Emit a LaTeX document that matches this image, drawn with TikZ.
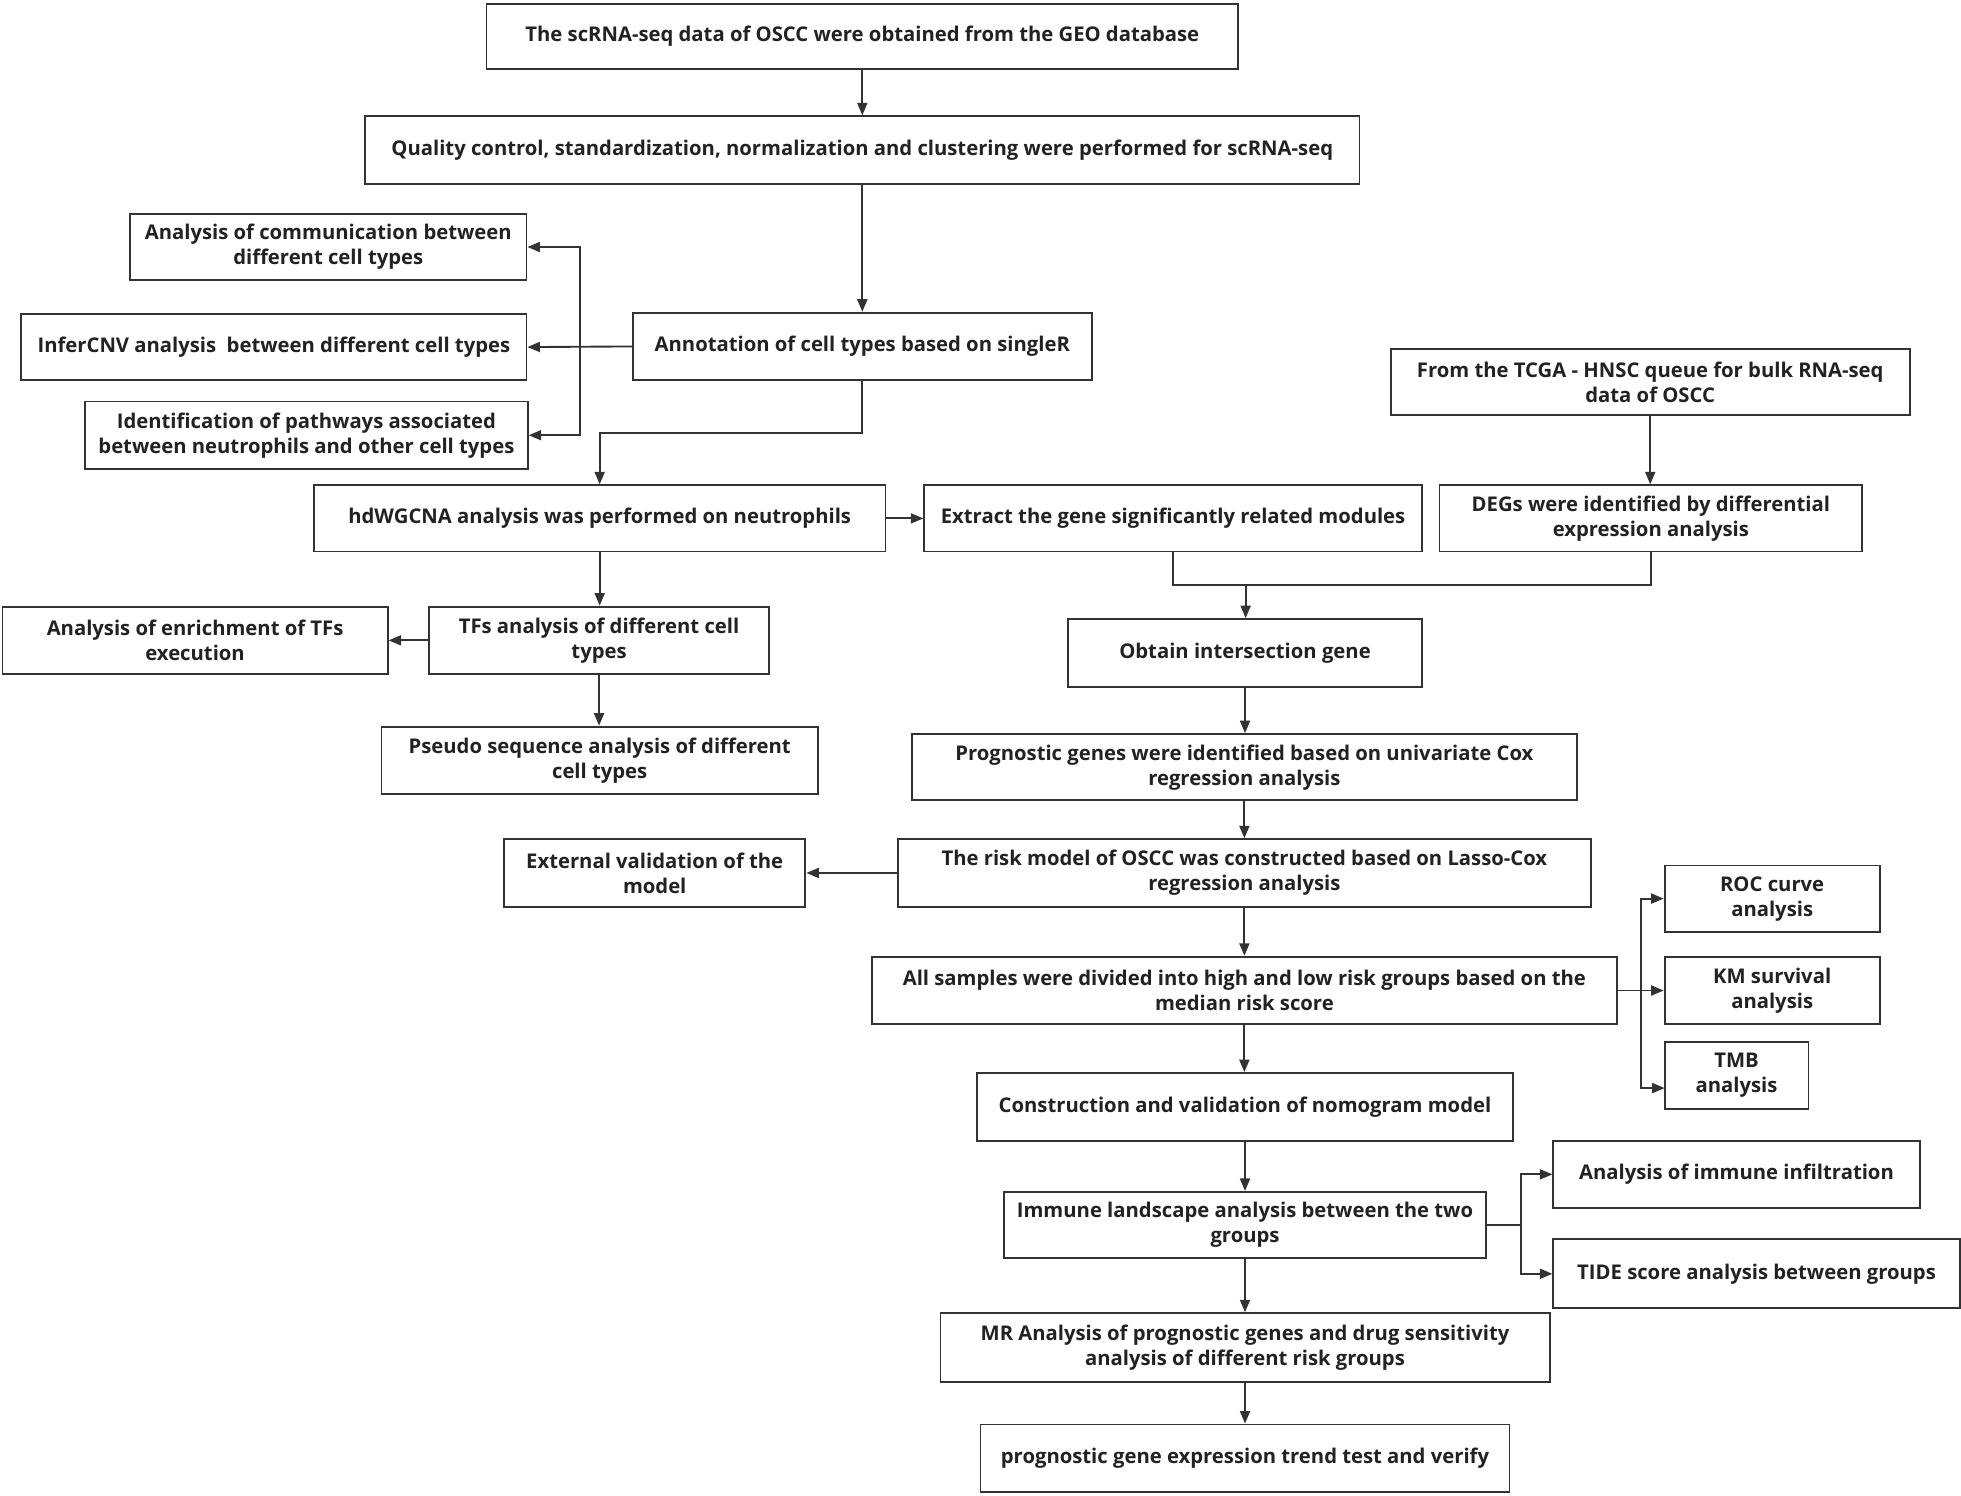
\documentclass[tikz,border=0pt]{standalone}
\usepackage{fontspec}
\setmainfont{Open Sans}
\usetikzlibrary{arrows.meta}
\definecolor{ln}{HTML}{333333}
\definecolor{tx}{HTML}{222222}
\begin{document}
\begin{tikzpicture}[x=0.5pt,y=-0.5pt,
  bx/.style 2 args={draw=ln, line width=0.75pt, inner sep=0pt, align=center,
    minimum width=#1*0.5pt, minimum height=#2*0.5pt,
    font=\fontsize{8.1}{10}\selectfont\bfseries, text=tx},
  arr/.style={draw=ln, line width=0.75pt, -{Triangle[length=5pt,width=4pt]}},
  ln/.style={draw=ln, line width=0.75pt}]
\useasboundingbox (0,0) rectangle (1568,1196);
\fill[white] (0,0) rectangle (1568,1196);

\node[bx={601}{52}] (n1) at (689.5,29) {The scRNA-seq data of OSCC were obtained from the GEO database};
\node[bx={795}{54}] (n2) at (689.5,120) {Quality control, standardization, normalization and clustering were performed for scRNA-seq};
\node[bx={317}{53}] (comm) at (262.5,197.5) {Analysis of communication between\\different cell types};
\node[bx={404}{53}] (infer) at (219,277.5) {InferCNV analysis\ \ between different cell types};
\node[bx={354}{54}] (ident) at (245,348) {Identification of pathways associated\\between neutrophils and other cell types};
\node[bx={367}{54}] (annot) at (689.5,277) {Annotation of cell types based on singleR};
\node[bx={415}{53}] (tcga) at (1319.5,305.5) {From the TCGA - HNSC queue for bulk RNA-seq\\data of OSCC};
\node[bx={457}{53}] (hdw) at (479.5,414.5) {hdWGCNA analysis was performed on neutrophils};
\node[bx={398}{53}] (extract) at (938,414.5) {Extract the gene significantly related modules};
\node[bx={338}{53}] (degs) at (1320,414.5) {DEGs were identified by differential\\expression analysis};
\node[bx={308}{54}] (tfenr) at (156,512) {Analysis of enrichment of TFs\\execution};
\node[bx={272}{54}] (tfs) at (479,512) {TFs analysis of different cell\\types};
\node[bx={283}{54}] (inter) at (995.5,522) {Obtain intersection gene};
\node[bx={349}{54}] (pseudo) at (479.5,608) {Pseudo sequence analysis of different\\cell types};
\node[bx={532}{53}] (prog) at (995,613.5) {Prognostic genes were identified based on univariate Cox\\regression analysis};
\node[bx={241}{54}] (ext) at (523.5,698) {External validation of the\\model};
\node[bx={554}{54}] (risk) at (995,698) {The risk model of OSCC was constructed based on Lasso-Cox\\regression analysis};
\node[bx={172}{53}] (roc) at (1417,718.5) {ROC curve\\analysis};
\node[bx={596}{54}] (all) at (995,792) {All samples were divided into high and low risk groups based on the\\median risk score};
\node[bx={172}{54}] (km) at (1417,792) {KM survival\\analysis};
\node[bx={115}{54}] (tmb) at (1388.5,860) {TMB\\analysis};
\node[bx={429}{54}] (nomo) at (995.5,885) {Construction and validation of nomogram model};
\node[bx={293}{54}] (infil) at (1388.5,939) {Analysis of immune infiltration};
\node[bx={385}{53}] (land) at (995.5,979.5) {Immune landscape analysis between the two\\groups};
\node[bx={325}{55}] (tide) at (1404.5,1018.5) {TIDE score analysis between groups};
\node[bx={487}{55}] (mr) at (995.5,1077.5) {MR Analysis of prognostic genes and drug sensitivity\\analysis of different risk groups};
\node[bx={423}{54}] (last) at (995.5,1166) {prognostic gene expression trend test and verify};

\coordinate (br1) at (464,277);
\coordinate (k1) at (689.5,346);
\coordinate (m) at (996,468);
\coordinate (br2) at (1312,792);
\coordinate (tmbin) at (1331,870);
\coordinate (br3) at (1216,979.5);

\draw[arr] (n1) -- (n2);
\draw[arr] (n2) -- (annot);
\draw[arr] (annot.west) -- (infer.east);
\draw[arr] (br1) |- (comm.east);
\draw[arr] (br1) |- (ident.east);
\draw[arr] (annot.south) -- (k1) -| (hdw.north);
\draw[arr] (hdw.east) -- (extract.west);
\draw[arr] (tcga.south) -- (tcga.south |- degs.north);
\draw[ln] (extract.south) |- (m) -| (degs.south);
\draw[arr] (m) -- (m |- inter.north);
\draw[arr] (hdw.south) -- (hdw.south |- tfs.north);
\draw[arr] (tfs.west) -- (tfenr.east);
\draw[arr] (tfs.south) -- (tfs.south |- pseudo.north);
\draw[arr] (inter.south) -- (inter.south |- prog.north);
\draw[arr] (prog.south) -- (prog.south |- risk.north);
\draw[arr] (risk.west) -- (ext.east);
\draw[arr] (risk.south) -- (risk.south |- all.north);
\draw[ln] (all.east) -- (br2);
\draw[arr] (br2) |- (roc.west);
\draw[arr] (br2) -- (km.west);
\draw[arr] (br2) |- (tmbin);
\draw[arr] (all.south) -- (all.south |- nomo.north);
\draw[arr] (nomo.south) -- (nomo.south |- land.north);
\draw[ln] (land.east) -- (br3);
\draw[arr] (br3) |- (infil.west);
\draw[arr] (br3) |- (tide.west);
\draw[arr] (land.south) -- (land.south |- mr.north);
\draw[arr] (mr.south) -- (mr.south |- last.north);
\end{tikzpicture}
\end{document}
